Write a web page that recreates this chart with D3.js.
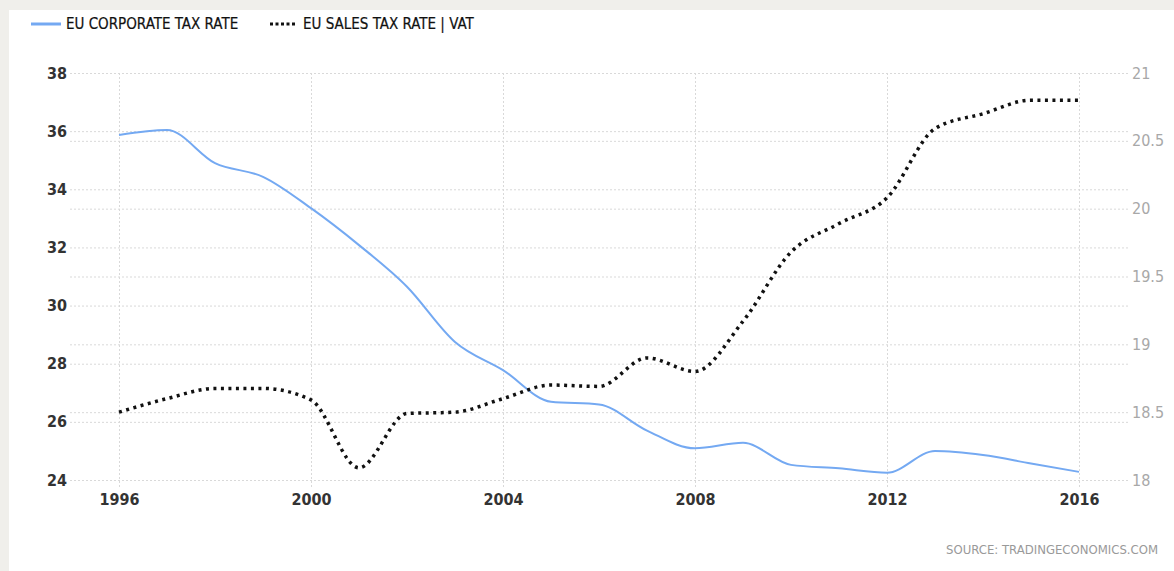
<!DOCTYPE html>
<html>
<head>
<meta charset="utf-8">
<script src="https://cdn.jsdelivr.net/npm/d3@7"></script>
<style>
  body { margin: 0; background: #f0efeb; }
  svg { display: block; }
  .grid line { stroke: #d9d9d9; stroke-width: 1; stroke-dasharray: 2,2; }
  .grid path { display: none; }
</style>
</head>
<body>
<div id="chart-area"></div>
<script>
// data
var years = [1996, 1997, 1998, 1999, 2000, 2001, 2002, 2003, 2004, 2005, 2006,
             2007, 2008, 2009, 2010, 2011, 2012, 2013, 2014, 2015, 2016];
var corporateTax = [35.87, 36.04, 34.9, 34.43, 33.35, 32.08, 30.65, 28.75, 27.78, 26.69, 26.6,
                    25.7, 25.09, 25.28, 24.52, 24.4, 24.25, 25.0, 24.86, 24.57, 24.28];
var salesTax = [18.5, 18.6, 18.675, 18.675, 18.59, 18.09, 18.49, 18.5, 18.6, 18.7, 18.69,
                18.9, 18.8, 19.17, 19.68, 19.89, 20.08, 20.59, 20.7, 20.8, 20.8];
var xTicks = [1996, 2000, 2004, 2008, 2012, 2016];
var leftTicks = [24, 26, 28, 30, 32, 34, 36, 38];
var rightTicks = [18, 18.5, 19, 19.5, 20, 20.5, 21];
var seriesNames = ["EU CORPORATE TAX RATE", "EU SALES TAX RATE | VAT"];

var W = 1174, H = 571;
var plotLeft = 70, plotRight = 1128, plotTop = 73, plotBottom = 480;

var svg = d3.select("#chart-area").append("svg").attr("width", W).attr("height", H);
svg.append("rect").attr("x", 9).attr("y", 10).attr("width", W - 9).attr("height", H - 10).attr("fill", "#fff");

var x = d3.scaleLinear().domain([1996, 2016]).range([119, 1079]);
var yL = d3.scaleLinear().domain([24, 38]).range([plotBottom, plotTop]);
var yR = d3.scaleLinear().domain([18, 21]).range([plotBottom, plotTop]);

var numFont = "'DejaVu Sans Condensed', 'DejaVu Sans', sans-serif";

// left axis + grid
var gl = svg.append("g").attr("class", "grid").attr("transform", "translate(" + plotLeft + ",0)")
  .call(d3.axisLeft(yL).tickValues(leftTicks).tickSize(-(plotRight - plotLeft)).tickPadding(3).tickFormat(d3.format("d")));
gl.selectAll("text").attr("font-family", numFont).attr("font-size", "16px").attr("font-weight", "bold").attr("fill", "#333");

// right axis + grid
var gr = svg.append("g").attr("class", "grid").attr("transform", "translate(" + plotRight + ",0)")
  .call(d3.axisRight(yR).tickValues(rightTicks).tickSize(-(plotRight - plotLeft)).tickPadding(4).tickFormat(function (d) { return +d; }));
gr.selectAll("text").attr("font-family", numFont).attr("font-size", "16px").attr("fill", "#a8a8a8");

// x axis + vertical grid
var gx = svg.append("g").attr("class", "grid").attr("transform", "translate(0,487)")
  .call(d3.axisBottom(x).tickValues(xTicks).tickSize(-(487 - plotTop)).tickPadding(7).tickFormat(d3.format("d")));
gx.selectAll("text").attr("font-family", numFont).attr("font-size", "16px").attr("font-weight", "bold").attr("fill", "#333");

var corpLine = d3.line().curve(d3.curveMonotoneX)
  .x(function (d, i) { return x(years[i]); })
  .y(function (d) { return yL(d); });
var vatLine = d3.line().curve(d3.curveMonotoneX)
  .x(function (d, i) { return x(years[i]); })
  .y(function (d) { return yR(d); });

svg.append("path").datum(corporateTax).attr("d", corpLine)
  .attr("fill", "none").attr("stroke", "#74a9f2").attr("stroke-width", 2);
svg.append("path").datum(salesTax).attr("d", vatLine)
  .attr("fill", "none").attr("stroke", "#111").attr("stroke-width", 3.5).attr("stroke-dasharray", "3,4.5");

// legend
var legFont = "'Liberation Sans Narrow', 'DejaVu Sans Condensed', sans-serif";
var legend = svg.append("g");
legend.append("line").attr("x1", 31).attr("x2", 61).attr("y1", 24).attr("y2", 24)
  .attr("stroke", "#74a9f2").attr("stroke-width", 3);
legend.append("text").attr("x", 66).attr("y", 29).attr("font-family", legFont).attr("font-size", "15px")
  .attr("fill", "#111").attr("stroke", "#111").attr("stroke-width", 0.2).text(seriesNames[0]);
legend.append("line").attr("x1", 270).attr("x2", 297).attr("y1", 24).attr("y2", 24)
  .attr("stroke", "#111").attr("stroke-width", 3).attr("stroke-dasharray", "3,2.5");
legend.append("text").attr("x", 303).attr("y", 29).attr("font-family", legFont).attr("font-size", "15px")
  .attr("fill", "#111").attr("stroke", "#111").attr("stroke-width", 0.2).text(seriesNames[1]);

svg.append("text").attr("x", 1158).attr("y", 554).attr("text-anchor", "end")
  .attr("font-family", numFont).attr("font-size", "13px").attr("fill", "#999")
  .text("SOURCE: TRADINGECONOMICS.COM");
</script>
</body>
</html>
